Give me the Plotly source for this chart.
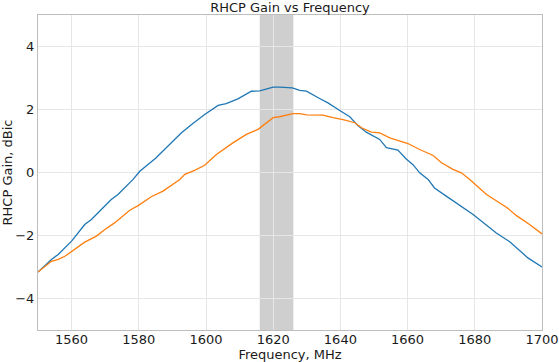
import plotly.graph_objects as go

# Blue series (frequency MHz, gain dBic)
blue_freq = [1550, 1554, 1556, 1560, 1563.9, 1565.9, 1571.8, 1573.8, 1578.3, 1580.3,
             1585, 1589, 1592.7, 1596, 1599.6, 1603.6, 1606, 1609.5, 1613.5, 1616,
             1620, 1621.9, 1625.7, 1627.9, 1629.9, 1633.8, 1636.3, 1639.8, 1642.8,
             1645.2, 1647.7, 1651.7, 1653.7, 1657.1, 1659.6, 1661.6, 1663.6, 1666.1,
             1668, 1671.5, 1679.5, 1686.4, 1690.4, 1695.8, 1700]
blue_gain = [-3.16, -2.76, -2.6, -2.18, -1.65, -1.49, -0.86, -0.70, -0.22, 0.04,
             0.45, 0.88, 1.26, 1.55, 1.84, 2.13, 2.19, 2.34, 2.58, 2.59,
             2.71, 2.71, 2.69, 2.61, 2.58, 2.35, 2.21, 1.97, 1.77,
             1.49, 1.28, 1.05, 0.79, 0.71, 0.43, 0.25, -0.01, -0.22,
             -0.49, -0.75, -1.33, -1.92, -2.2, -2.71, -3.0]

# Orange series
orange_freq = [1550, 1554, 1556, 1558, 1563.9, 1567.4, 1569.9, 1572.8, 1577.3, 1579.8,
               1583.7, 1587.2, 1592.2, 1593.7, 1596.6, 1599.6, 1603.1, 1608, 1612, 1615.5,
               1620, 1621.9, 1625.9, 1627.9, 1629.9, 1634.8, 1637.8, 1640.8, 1644.3,
               1646.3, 1649.2, 1651.7, 1654.7, 1657.6, 1660.1, 1663.6, 1667.6, 1670.1,
               1673.5, 1676, 1678.5, 1683.5, 1685.4, 1689.4, 1692.4, 1696.3, 1700]
orange_gain = [-3.16, -2.82, -2.76, -2.66, -2.21, -2.02, -1.81, -1.60, -1.2, -1.05,
               -0.77, -0.59, -0.22, -0.06, 0.07, 0.23, 0.57, 0.94, 1.21, 1.37,
               1.74, 1.77, 1.87, 1.87, 1.83, 1.82, 1.74, 1.68, 1.58,
               1.42, 1.28, 1.26, 1.10, 0.99, 0.92, 0.73, 0.54, 0.31,
               0.10, -0.01, -0.22, -0.70, -0.83, -1.10, -1.37, -1.65, -1.95]

band = [1616, 1626]
x_ticks = [1560, 1580, 1600, 1620, 1640, 1660, 1680, 1700]
y_ticks = [-4, -2, 0, 2, 4]

FONT = "DejaVu Sans"
FS = 13

fig = go.Figure()
fig.add_trace(go.Scatter(x=blue_freq, y=blue_gain, mode="lines",
                         line=dict(color="#1f77b4", width=1.3), showlegend=False))
fig.add_trace(go.Scatter(x=orange_freq, y=orange_gain, mode="lines",
                         line=dict(color="#ff7f0e", width=1.3), showlegend=False))

fig.add_shape(type="rect", xref="x", yref="paper", x0=band[0], x1=band[1], y0=0, y1=1,
              fillcolor="#cfcfcf", line=dict(width=0), layer="between")

fig.update_layout(
    width=559, height=362,
    margin=dict(l=38, r=17, t=15, b=32),
    paper_bgcolor="white", plot_bgcolor="white",
    font=dict(family=FONT, size=FS, color="#1a1a1a"),
    title=dict(text="RHCP Gain vs Frequency", x=(38 + 542) / 2 / 559, xanchor="center",
               y=1 - 3 / 362, yanchor="top", yref="container",
               font=dict(family=FONT, size=FS, color="#1a1a1a"), pad=dict(t=0, b=0)),
    xaxis=dict(range=[1550, 1700], tickvals=x_ticks, ticktext=[str(v) for v in x_ticks],
               showgrid=True, gridcolor="#e6e6e6", gridwidth=1, zeroline=False,
               showline=True, linecolor="#bdbdbd", linewidth=1, mirror=True,
               ticks="", automargin=False, ticklabelstandoff=-3,
               title=dict(text="Frequency, MHz", standoff=4, font=dict(size=FS))),
    yaxis=dict(range=[-5, 5], tickvals=y_ticks, ticktext=["\u22124", "\u22122", "0", "2", "4"],
               showgrid=True, gridcolor="#e6e6e6", gridwidth=1, zeroline=False,
               showline=True, linecolor="#bdbdbd", linewidth=1, mirror=True,
               ticks="", automargin=False,
               title=dict(text="RHCP Gain, dBic", standoff=2, font=dict(size=FS))),
)

fig.write_html("out.html", config={"displayModeBar": False},
               post_script="document.body.style.margin='0';")
